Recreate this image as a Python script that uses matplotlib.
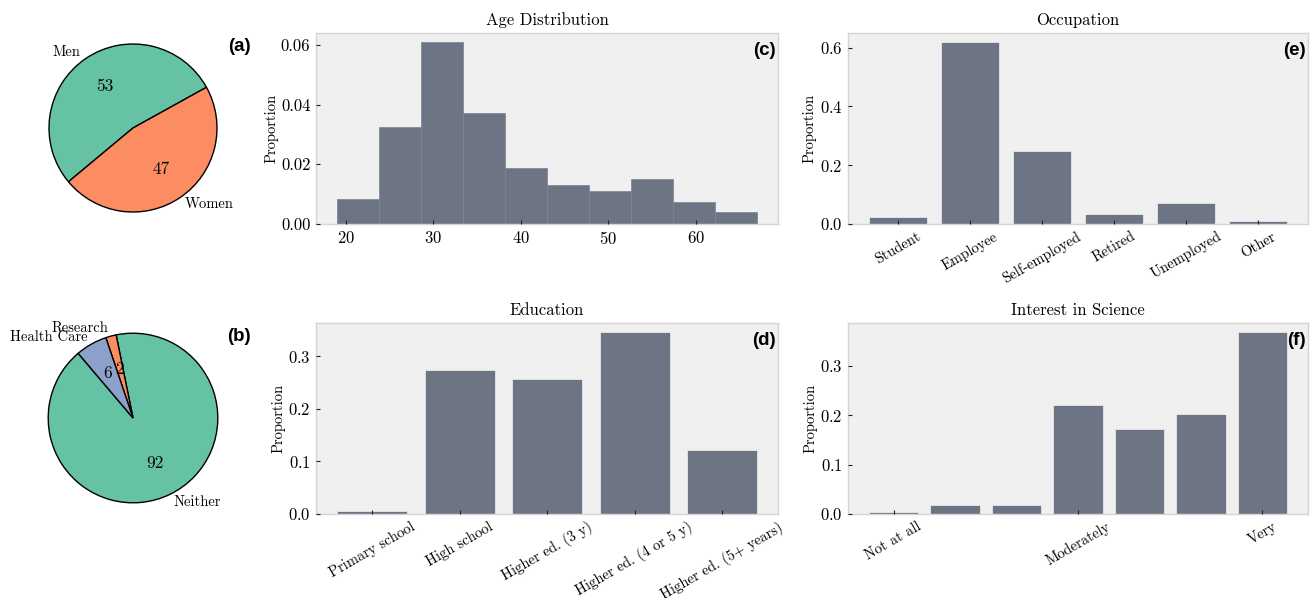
import numpy as np
import matplotlib
matplotlib.use('Agg')
import matplotlib.pyplot as plt

# computer-modern look without a latex install
plt.rc('font', family='serif', size=11)
plt.rc('font', serif=['cmr10'])
plt.rc('mathtext', fontset='cm')
plt.rcParams['axes.formatter.use_mathtext'] = True

# data
gender_labels = ['Men', 'Women']
gender_pct = [53, 47]

sector_labels = ['Neither', 'Research', 'Health Care']
sector_pct = [92, 2, 6]

age_edges = np.linspace(19, 67, 11)
age_density = [0.0084, 0.0326, 0.0609, 0.0373, 0.0188, 0.0131, 0.0111, 0.0151, 0.0074, 0.0040]

occ_labels = ['Student', 'Employee', 'Self-employed', 'Retired', 'Unemployed', 'Other']
occ_prop = [0.023, 0.619, 0.247, 0.033, 0.073, 0.010]

edu_labels = ['Primary school', 'High school', 'Higher ed. (3 y)',
              'Higher ed. (4 or 5 y)', 'Higher ed. (5+ years)']
edu_prop = [0.005, 0.274, 0.256, 0.346, 0.121]

interest_prop = [0.005, 0.018, 0.018, 0.220, 0.171, 0.202, 0.368]
interest_ticks = [0, 3, 6]
interest_ticklabels = ['Not at all', 'Moderately', 'Very']

set2 = ['#66c2a5', '#fc8d62', '#8da0cb']
bar_color = '#6d7585'
bg = '#f0f0f0'

W, H = 1311, 598
fig = plt.figure(figsize=(W / 100, H / 100), dpi=100)


def px_axes(l, t, r, b):
    return fig.add_axes([l / W, 1 - b / H, (r - l) / W, (b - t) / H])


def style(ax):
    ax.set_facecolor(bg)
    for s in ax.spines.values():
        s.set_color('#d4d4d4')
        s.set_linewidth(1.0)
    ax.tick_params(direction='in', length=3, width=0.8, color='#222222',
                   labelsize=12, pad=4)
    ax.set_axisbelow(False)
    ax.set_ylabel('Proportion', fontsize=10.5, labelpad=2)


def panel(ax, s, x=0.995, y=0.955):
    ax.text(x, y, s, transform=ax.transAxes, ha='right', va='top',
            fontsize=13.5, fontweight='bold', family='Liberation Sans')


def cat_labels(ax, ticks, labels):
    ax.set_xticks(ticks)
    ax.set_xticklabels(labels, rotation=30, fontsize=10.5)


wedge_kw = dict(edgecolor='black', linewidth=1.0)

# (a) gender
ax_a = px_axes(28, 23, 238, 233)
ax_a.pie(gender_pct, labels=gender_labels, colors=set2[:2], startangle=29,
         autopct='%.0f', wedgeprops=wedge_kw,
         textprops=dict(fontsize=10.5))
for t in ax_a.texts[1::2]:
    t.set_fontsize(12.5)
fig.text(251 / W, 1 - 38 / H, '(a)', ha='right', va='top', fontsize=13.5,
         fontweight='bold', family='Liberation Sans')

# (b) sector
ax_b = px_axes(27, 312, 239, 524)
ax_b.pie(sector_pct, labels=sector_labels, colors=[set2[0], set2[1], set2[2]],
         startangle=130.3, autopct='%.0f', wedgeprops=wedge_kw,
         textprops=dict(fontsize=10.5))
for t in ax_b.texts[1::2]:
    t.set_fontsize(12.5)
fig.text(251 / W, 1 - 328 / H, '(b)', ha='right', va='top', fontsize=13.5,
         fontweight='bold', family='Liberation Sans')

# (c) age histogram
ax_c = px_axes(316, 33, 778, 224)
ax_c.bar(age_edges[:-1], age_density, width=np.diff(age_edges), align='edge',
         color=bar_color, edgecolor='#7a8291', linewidth=0.5)
style(ax_c)
ax_c.set_title('Age Distribution', fontsize=12)
ax_c.set_xticks([20, 30, 40, 50, 60])
ax_c.set_yticks([0.0, 0.02, 0.04, 0.06])
ax_c.set_yticklabels(['0.00', '0.02', '0.04', '0.06'])
panel(ax_c, '(c)')

# (e) occupation
ax_e = px_axes(848, 33, 1308, 224)
x = np.arange(len(occ_labels))
ax_e.bar(x, occ_prop, color=bar_color, edgecolor='#e8e8e8', linewidth=0.6)
style(ax_e)
ax_e.set_title('Occupation', fontsize=12)
cat_labels(ax_e, x, occ_labels)
ax_e.set_yticks([0.0, 0.2, 0.4, 0.6])
panel(ax_e, '(e)')

# (d) education
ax_d = px_axes(316, 323, 778, 514)
x = np.arange(len(edu_labels))
ax_d.bar(x, edu_prop, color=bar_color, edgecolor='#e8e8e8', linewidth=0.6)
style(ax_d)
ax_d.set_title('Education', fontsize=12)
cat_labels(ax_d, x, edu_labels)
ax_d.set_yticks([0.0, 0.1, 0.2, 0.3])
panel(ax_d, '(d)')

# (f) interest in science
ax_f = px_axes(848, 323, 1308, 514)
x = np.arange(len(interest_prop))
ax_f.bar(x, interest_prop, color=bar_color, edgecolor='#e8e8e8', linewidth=0.6)
style(ax_f)
ax_f.set_title('Interest in Science', fontsize=12)
cat_labels(ax_f, interest_ticks, interest_ticklabels)
ax_f.set_yticks([0.0, 0.1, 0.2, 0.3])
panel(ax_f, '(f)')

fig.savefig('out.png', dpi=100, facecolor='white')
